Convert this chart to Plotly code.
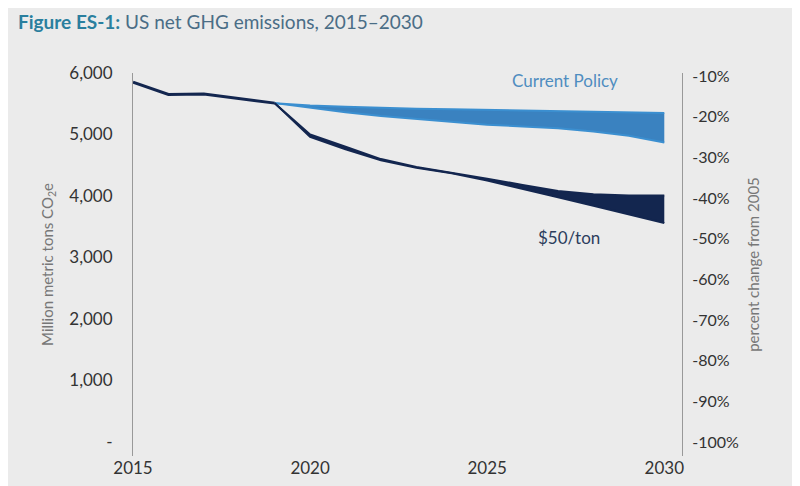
import plotly.graph_objects as go

years = list(range(2015, 2031))
history = [5850, 5650, 5660, 5580, 5510]
hist_years = years[:5]

cp_years = list(range(2019, 2031))
cp_upper = [5510, 5470, 5450, 5430, 5420, 5410, 5400, 5390, 5380, 5370, 5360, 5350]
cp_lower = [5510, 5430, 5360, 5300, 5250, 5200, 5160, 5130, 5100, 5050, 4980, 4870]

tax_upper = [5510, 5000, 4800, 4600, 4470, 4380, 4280, 4180, 4080, 4030, 4010, 4010]
tax_lower = [5510, 4960, 4760, 4580, 4460, 4370, 4250, 4120, 3980, 3840, 3700, 3560]

left_ticks = [0, 1000, 2000, 3000, 4000, 5000, 6000]
left_labels = ["-", "1,000", "2,000", "3,000", "4,000", "5,000", "6,000"]
pct_ticks = list(range(-100, 0, 10))
base_2005 = 6611

light = "#3b8fd0"
dark = "#13264f"
gray = "#555555"

fig = go.Figure()
fig.add_trace(go.Scatter(x=cp_years, y=cp_upper, mode="lines", line=dict(color=light, width=2)))
fig.add_trace(go.Scatter(x=cp_years, y=cp_lower, mode="lines", line=dict(color=light, width=2),
                         fill="tonexty", fillcolor="#3a82c0"))
fig.add_trace(go.Scatter(x=cp_years, y=tax_upper, mode="lines", line=dict(color=dark, width=2)))
fig.add_trace(go.Scatter(x=cp_years, y=tax_lower, mode="lines", line=dict(color=dark, width=2),
                         fill="tonexty", fillcolor=dark))
fig.add_trace(go.Scatter(x=hist_years, y=history, mode="lines", line=dict(color=dark, width=3)))
# invisible trace so the right axis shows
fig.add_trace(go.Scatter(x=[2015], y=[-50], yaxis="y2", mode="markers", marker=dict(opacity=0),
                         hoverinfo="skip"))

ymin, ymax = -228, 6000
fig.update_layout(
    width=800, height=486, showlegend=False,
    paper_bgcolor="#ebebeb", plot_bgcolor="#ebebeb",
    margin=dict(l=125, r=126, t=65, b=38, autoexpand=False),
    font=dict(family="Lato, Open Sans, sans-serif", color=gray, size=16),
    xaxis=dict(range=[2015, 2030.5], tickvals=[2015, 2020, 2025, 2030], showgrid=False,
               zeroline=False, ticks="", automargin=False, tickfont=dict(size=17, color="#333333")),
    yaxis=dict(range=[ymin, ymax], tickvals=left_ticks, ticktext=left_labels, showgrid=False,
               zeroline=False, showline=True, linecolor="#999999", linewidth=1, automargin=False,
               ticks="outside", ticklen=16, tickcolor="rgba(0,0,0,0)",
               title=dict(text="Million metric tons CO<sub>2</sub>e", standoff=12,
                          font=dict(size=15, color="#777777")),
               tickfont=dict(size=17, color="#333333")),
    yaxis2=dict(overlaying="y", side="right",
                range=[ymin / base_2005 * 100 - 100, ymax / base_2005 * 100 - 100],
                tickvals=pct_ticks, ticktext=[f"{v}%" for v in pct_ticks], showgrid=False,
                zeroline=False, showline=True, linecolor="#999999", linewidth=1, automargin=False,
                ticks="outside", ticklen=6, tickcolor="rgba(0,0,0,0)",
                title=dict(text="percent change from 2005", standoff=10,
                           font=dict(size=15, color="#777777")),
                tickfont=dict(size=16, color="#333333")),
    annotations=[
        dict(x=0, y=1, xref="paper", yref="paper", xanchor="left", yanchor="top",
             xshift=-117, yshift=65, showarrow=False,
             text="<b style='color:#2a7f9e'>Figure ES-1:</b> <span style='color:#4a6d86'>US net GHG emissions, 2015–2030</span>",
             font=dict(size=19)),
        dict(x=2027.2, y=5870, text="Current Policy", showarrow=False, font=dict(size=17, color="#4f8dc0")),
        dict(x=2027.3, y=3320, text="$50/ton", showarrow=False, font=dict(size=17, color="#2c3d5c")),
    ],
)

fig.write_html("out.html")
